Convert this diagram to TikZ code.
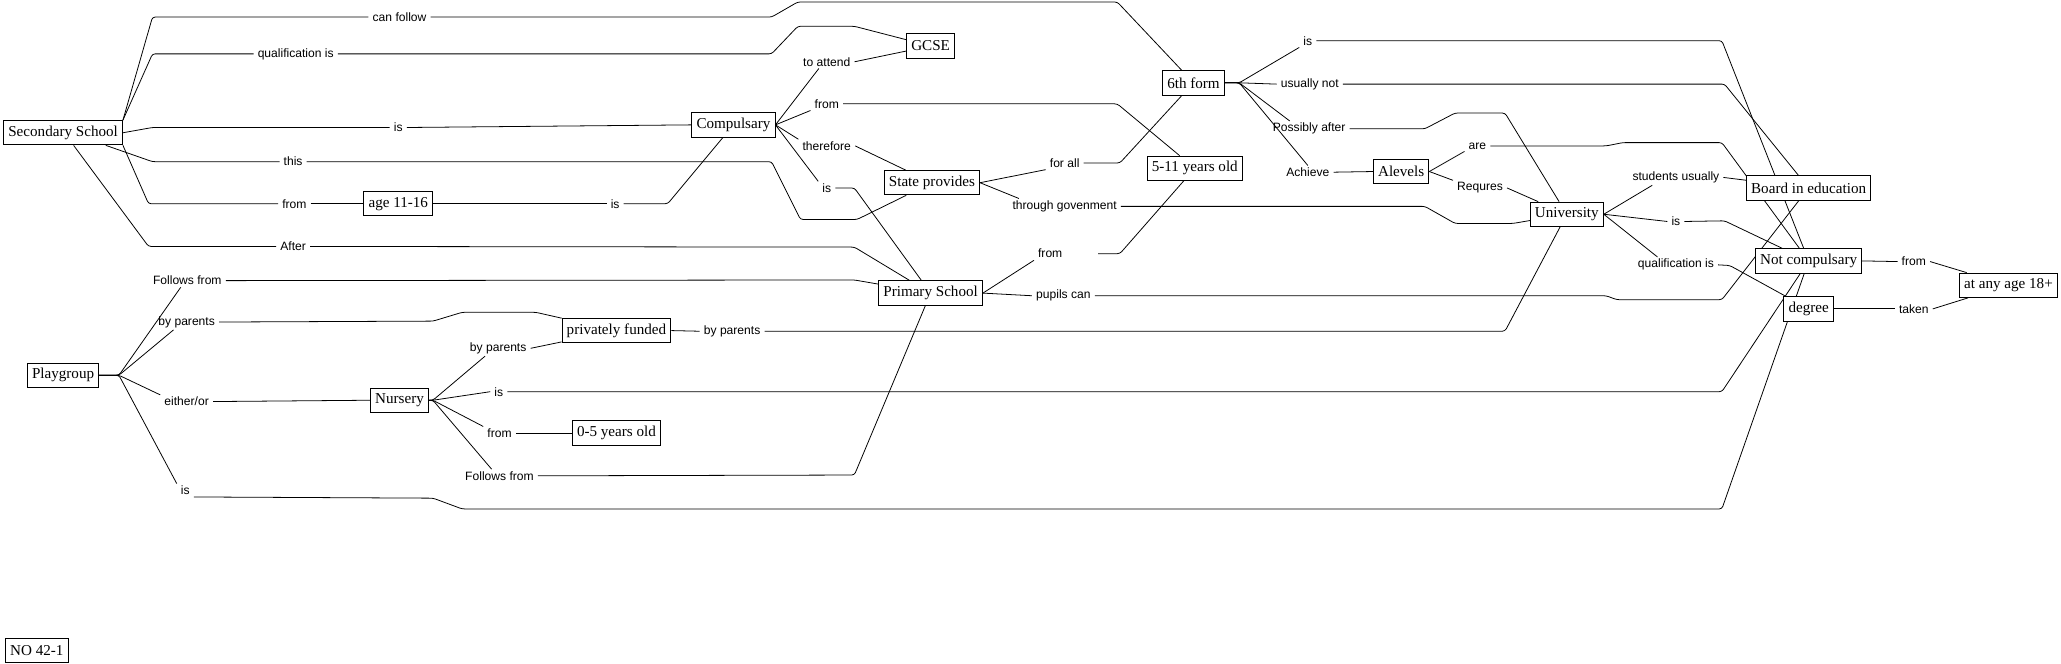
\documentclass[tikz,border=0pt]{standalone}
\usepackage{fontspec}
\setmainfont{Liberation Serif}
\newfontfamily\phrasefont{Liberation Sans}
\usetikzlibrary{positioning,backgrounds}

\begin{document}
\begin{tikzpicture}[
		x=1pt, y=-1pt,
		concept/.style={
			draw,
			fill=white,
			line width=0.7pt,
			inner xsep=3.5pt,
			minimum height=18.5pt,
			font=\fontsize{11.5pt}{13pt}\selectfont
		},
		phrase/.style={
			inner xsep=3pt,
			inner ysep=1.5pt,
			font=\phrasefont\fontsize{9.2pt}{11pt}\selectfont
		},
		linkline/.style={
			line width=0.6pt,
			rounded corners=2pt
		}
		]
		
		\useasboundingbox (0,0) rectangle (1568,505);
		
		% concepts
		\node[concept] (ss) at (48,101) {Secondary School};
		\node[concept] (gcse) at (708,35) {GCSE};
		\node[concept] (comp) at (558,95) {Compulsary};
		\node[concept] (sixth) at (908,63) {6th form};
		\node[concept] (fiveeleven) at (909,128) {5-11 years old};
		\node[concept] (state) at (709,139) {State provides};
		\node[concept] (age) at (303,155) {age 11-16};
		\node[concept] (primary) at (708,223) {Primary School};
		\node[concept] (alevels) at (1066,130.5) {Alevels};
		\node[concept] (uni) at (1192,163) {University};
		\node[concept] (board) at (1376,143) {Board in education};
		\node[concept] (notcomp) at (1376,198.5) {Not compulsary};
		\node[concept] (degree) at (1376,235) {degree};
		\node[concept] (anyage) at (1528,217) {at any age 18+};
		\node[concept] (play) at (48,285.5) {Playgroup};
		\node[concept] (nursery) at (304,304.5) {Nursery};
		\node[concept] (private) at (469,251.5) {privately funded};
		\node[concept] (zerofive) at (469,329.5) {0-5 years old};
		\node[concept] (tag) at (28,495) {NO 42-1};
		
		% linking phrases
		\node[phrase] (canfollow) at (304,13) {can follow};
		\node[phrase] (qualis) at (225,41) {qualification is};
		\node[phrase] (ssis) at (303,97) {is};
		\node[phrase] (this) at (223,123) {this};
		\node[phrase] (ssfrom) at (224,155) {from};
		\node[phrase] (ageis) at (468,155) {is};
		\node[phrase] (after) at (223,187.5) {After};
		\node[phrase] (toattend) at (629,47) {to attend};
		\node[phrase] (compfrom) at (629,79) {from};
		\node[phrase] (therefore) at (629,111) {therefore};
		\node[phrase] (compis) at (629,143) {is};
		\node[phrase] (forall) at (810,124) {for all};
		\node[phrase] (through) at (810,157) {through govenment};
		\node[phrase] (primfrom) at (799,193) {from};
		\node[phrase] (pupils) at (809,225) {pupils can};
		\node[phrase] (sixis) at (995,31) {is};
		\node[phrase] (usually) at (996.5,64) {usually not};
		\node[phrase] (possibly) at (996,98) {Possibly after};
		\node[phrase] (achieve) at (995,131) {Achieve};
		\node[phrase] (are) at (1124,111) {are};
		\node[phrase] (requres) at (1126,143) {Requres};
		\node[phrase] (students) at (1275,135) {students usually};
		\node[phrase] (uniis) at (1275,168.5) {is};
		\node[phrase] (uniqual) at (1275,201.5) {qualification is};
		\node[phrase] (ncfrom) at (1456,199) {from};
		\node[phrase] (taken) at (1456,235) {taken};
		\node[phrase] (followsa) at (142.5,213.5) {Follows from};
		\node[phrase] (byparentsa) at (142,245) {by parents};
		\node[phrase] (either) at (142,305.5) {either/or};
		\node[phrase] (playis) at (141,373) {is};
		\node[phrase] (byparentsb) at (379,265) {by parents};
		\node[phrase] (nurseryis) at (379.5,298) {is};
		\node[phrase] (nurseryfrom) at (380,329.5) {from};
		\node[phrase] (followsb) at (380,362) {Follows from};
		\node[phrase] (byparentsc) at (557,252) {by parents};
		
		\coordinate (sixfan) at ([xshift=11pt]sixth.east);
		\coordinate (playfan) at ([xshift=15pt]play.east);
		\coordinate (nurseryfan) at ([xshift=3pt]nursery.east);
		
		\begin{pgfonlayer}{background}
			% Secondary School
			\draw[linkline] (ss.north east) -- (116,13) -- (canfollow.west);
			\draw[linkline] (canfollow.east) -- (587,13) -- (607,1.5) -- (850,1.5) -- (sixth);
			\draw[linkline] (ss.north east) -- (116,41) -- (qualis.west);
			\draw[linkline] (qualis.east) -- (587,41) -- (607,20) -- (650,20) -- (gcse);
			\draw[linkline] (ss.east) -- (116,97) -- (ssis.west);
			\draw[linkline] (ssis.east) -- (comp.west);
			\draw[linkline] ([xshift=-13pt]ss.south east) -- (116,123) -- (this.west);
			\draw[linkline] (this.east) -- (587,123) -- (609,167) -- (652,167) -- (state);
			\draw[linkline] (ss.south east) -- (113,155) -- (ssfrom.west);
			\draw[linkline] (ssfrom.east) -- (age.west);
			\draw[linkline] (age.east) -- (ageis.west);
			\draw[linkline] (ageis.east) -- (508,155) -- (comp);
			\draw[linkline] ([xshift=8pt]ss.south) -- (113,187.5) -- (after.west);
			\draw[linkline] (after.east) -- (650,188) -- (primary);
			
			% Compulsary
			\draw[linkline] (comp.east) -- ([xshift=-6pt]toattend.south);
			\draw[linkline] (toattend.east) -- (gcse);
			\draw[linkline] (comp.east) -- (compfrom.south west);
			\draw[linkline] (compfrom.east) -- (850,79) -- (fiveeleven);
			\draw[linkline] (comp.east) -- (therefore.north west);
			\draw[linkline] (therefore.east) -- (state);
			\draw[linkline] (comp.east) -- (compis.north west);
			\draw[linkline] (compis.east) -- (650,143) -- (primary);
			
			% State provides
			\draw[linkline] (state.east) -- (forall.south west);
			\draw[linkline] (forall.east) -- (852,124) -- (sixth);
			\draw[linkline] (state.east) -- ([xshift=8pt]through.north west);
			\draw[linkline] (through.east) -- (1084,157) -- (1107,170) -- (1151,170) -- (uni);
			
			% Primary School
			\draw[linkline] (primary.east) -- (primfrom.south west);
			\draw[linkline] ([xshift=24pt]primfrom.east) -- (852,193) -- (fiveeleven);
			\draw[linkline] (primary.east) -- (pupils.west);
			\draw[linkline] (pupils.east) -- (1222,225) -- (1230,228) -- (1310,228) -- (board);
			
			% 6th form
			\draw[linkline] (sixth.east) -- (sixfan) -- (sixis.south west);
			\draw[linkline] (sixis.east) -- (1310,31) -- (notcomp);
			\draw[linkline] (sixth.east) -- (sixfan) -- (usually.west);
			\draw[linkline] (usually.east) -- (1312,64) -- (board);
			\draw[linkline] (sixth.east) -- (sixfan) -- ([xshift=16pt]possibly.north west);
			\draw[linkline] (possibly.east) -- (1084,98) -- (1107,86) -- (1145,86) -- (uni);
			\draw[linkline] (sixth.east) -- (sixfan) -- (achieve.north);
			\draw[linkline] (achieve.east) -- (alevels.west);
			
			% Alevels
			\draw[linkline] (alevels.east) -- (are.south west);
			\draw[linkline] (are.east) -- (1222,111) -- (1234.6,108.5) -- (1310,108.5) -- (notcomp);
			\draw[linkline] (alevels.east) -- (requres.north west);
			\draw[linkline] (requres.east) -- (uni);
			
			% University
			\draw[linkline] (uni.east) -- ([xshift=-18pt]students.south);
			\draw[linkline] (students.east) -- (board);
			\draw[linkline] (uni.east) -- (uniis.west);
			\draw[linkline] (uniis.east) -- (1312,168) -- (notcomp);
			\draw[linkline] (uni.east) -- ([xshift=-14pt]uniqual.north);
			\draw[linkline] (uniqual.east) -- (1316,202) -- (degree);
			
			% Not compulsary, degree
			\draw[linkline] (notcomp.east) -- (ncfrom.west);
			\draw[linkline] (ncfrom.east) -- (anyage);
			\draw[linkline] (degree.east) -- (taken.west);
			\draw[linkline] (taken.east) -- (anyage);
			
			% Playgroup
			\draw[linkline] (play.east) -- (playfan) -- ([xshift=-5pt]followsa.south);
			\draw[linkline] (followsa.east) -- (650,213) -- (primary);
			\draw[linkline] (play.east) -- (playfan) -- ([xshift=-10pt]byparentsa.south);
			\draw[linkline] (byparentsa.east) -- (329.5,244.3) -- (351.6,237.6) -- (407.6,237.6) -- (private);
			\draw[linkline] (play.east) -- (playfan) -- (either.north west);
			\draw[linkline] (either.east) -- (nursery.west);
			\draw[linkline] (play.east) -- (playfan) -- (playis.north west);
			\draw[linkline] (playis.south east) -- (329.5,379) -- (351.6,387.2) -- (1310,387.2) -- (notcomp);
			
			% Nursery
			\draw[linkline] (nursery.east) -- (nurseryfan) -- ([xshift=-10pt]byparentsb.south);
			\draw[linkline] (byparentsb.east) -- (private);
			\draw[linkline] (nursery.east) -- (nurseryfan) -- (nurseryis.west);
			\draw[linkline] (nurseryis.east) -- (1310,298) -- (notcomp);
			\draw[linkline] (nursery.east) -- (nurseryfan) -- (nurseryfrom.north west);
			\draw[linkline] (nurseryfrom.east) -- (zerofive.west);
			\draw[linkline] (nursery.east) -- (nurseryfan) -- ([xshift=-6pt]followsb.north);
			\draw[linkline] (followsb.east) -- (650,361.4) -- (primary);
			
			% privately funded
			\draw[linkline] (private.east) -- (byparentsc.west);
			\draw[linkline] (byparentsc.east) -- (1145,252) -- (uni);
		\end{pgfonlayer}
		
	\end{tikzpicture}
\end{document}
